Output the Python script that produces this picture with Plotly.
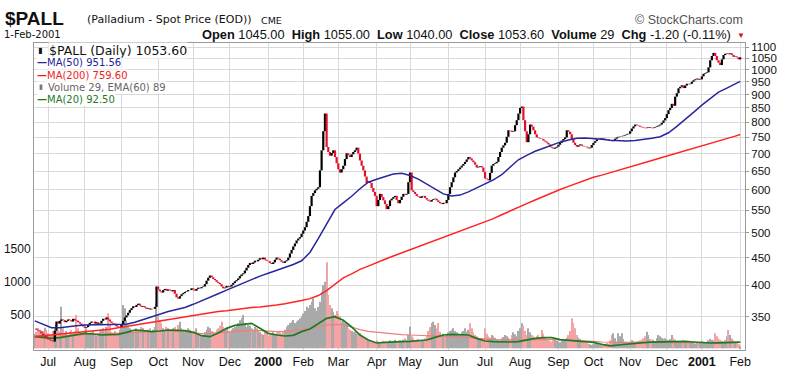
import math
import pandas as pd
import plotly.graph_objects as go

# ---------------- data ----------------
dates = pd.bdate_range("1999-06-21", "2001-02-01")

closes = [
    333, 331, 330, 329, 326, 322, 324, 320, 318, 317,
    316, 315, 330, 343, 340, 344, 346, 345, 342, 344,
    346, 345, 343, 347, 345, 344, 342, 340, 338, 336,
    334, 335, 338, 341, 343, 343, 340, 342, 339, 340,
    344, 347, 346, 349, 346, 343, 341, 340, 338, 336,
    335, 335, 338, 344, 349, 352, 356, 360, 363, 366,
    365, 368, 370, 367, 365, 366, 364, 362, 363, 361,
    362, 362, 365, 398, 393, 390, 388, 392, 394, 391,
    393, 392, 390, 392, 386, 380, 378, 382, 385, 387,
    389, 390, 392, 392, 395, 393, 391, 394, 396, 395,
    397, 398, 402, 408, 413, 417, 414, 411, 409, 406,
    404, 402, 398, 395, 396, 399, 397, 398, 401, 404,
    407, 409, 412, 416, 419, 421, 426, 431, 436, 440,
    438, 441, 444, 443, 446, 449, 447, 450, 446, 444,
    443, 440, 438, 441, 446, 450, 448, 445, 442, 440,
    443, 445, 450, 458, 465, 472, 478, 484, 488, 491,
    498, 505, 512, 524, 537, 560, 585, 592, 599, 603,
    607, 652, 710, 770, 830, 720, 705, 694, 702, 710,
    690, 672, 655, 646, 655, 665, 684, 701, 695, 690,
    698, 705, 710, 718, 700, 680, 665, 652, 635, 618,
    622, 618, 605, 595, 585, 560, 575, 590, 582, 574,
    565, 553, 560, 574, 578, 582, 585, 575, 567, 575,
    583, 590, 588, 590, 620, 646, 599, 595, 590, 585,
    583, 580, 584, 585, 580, 576, 573, 571, 575, 577,
    578, 574, 570, 567, 565, 568, 567, 575, 590, 607,
    620, 633, 646, 650, 655, 660, 665, 670, 676, 683,
    690, 686, 680, 675, 668, 660, 662, 664, 660, 648,
    630, 628, 625, 645, 665, 670, 672, 676, 690, 705,
    718, 725, 733, 752, 773, 772, 768, 770, 790, 807,
    830, 850, 855, 807, 770, 735, 760, 792, 785, 773,
    760, 750, 748, 746, 745, 740, 737, 733, 728, 721,
    718, 715, 718, 721, 727, 733, 740, 745, 750, 773,
    768, 760, 745, 733, 726, 721, 725, 728, 724, 722,
    721, 719, 716, 718, 726, 733, 738, 744, 745, 746,
    748, 746, 745, 744, 742, 740, 738, 742, 746, 750,
    752, 753, 754, 756, 758, 760, 762, 770, 779, 786,
    792, 790, 788, 785, 783, 781, 780, 782, 784, 781,
    780, 782, 784, 786, 789, 792, 798, 806, 814, 828,
    842, 850, 865, 858, 892, 905, 924, 930, 936, 925,
    935, 942, 940, 942, 950, 956, 960, 963, 958, 960,
    972, 983, 986, 989, 1010, 1041, 1060, 1074, 1060, 1041,
    1030, 1020, 1045, 1064, 1070, 1072, 1068, 1072, 1065, 1056,
    1058, 1054, 1045, 1053.6,
]

volume = [
    220, 250, 300, 280, 240, 260, 310, 280, 230, 200,
    180, 260, 300, 350, 280, 250, 624, 300, 220, 260,
    200, 240, 280, 220, 260, 500, 300, 240, 200, 230,
    260, 300, 220, 200, 240, 260, 210, 190, 230, 250,
    280, 300, 260, 320, 525, 350, 240, 200, 260, 220,
    200, 280, 350, 650, 600, 420, 320, 300, 280, 250,
    270, 300, 260, 280, 320, 300, 260, 240, 280, 300,
    260, 280, 320, 675, 500, 420, 380, 300, 280, 320,
    300, 260, 280, 300, 320, 280, 350, 400, 300, 260,
    240, 260, 300, 280, 250, 230, 260, 300, 220, 200,
    180, 200, 240, 280, 325, 300, 260, 240, 220, 280,
    300, 340, 400, 320, 280, 300, 260, 240, 280, 300,
    320, 340, 380, 420, 450, 500, 380, 320, 350, 340,
    300, 280, 320, 300, 260, 240, 220, 200, 250, 230,
    180, 200, 220, 240, 200, 230, 260, 240, 220, 250,
    280, 320, 350, 380, 400, 425, 380, 400, 420, 450,
    480, 520, 560, 625, 600, 650, 700, 750, 600, 560,
    620, 700, 850, 950, 1000, 1290, 800, 650, 600, 550,
    500, 560, 520, 480, 400, 420, 380, 360, 300, 280,
    260, 240, 250, 220, 200, 230, 180, 160, 150, 140,
    130, 120, 110, 100, 90, 120, 100, 80, 90, 110,
    100, 80, 90, 120, 100, 110, 130, 90, 100, 120,
    110, 130, 150, 120, 200, 325, 180, 150, 120, 130,
    140, 120, 110, 130, 150, 200, 260, 320, 380, 400,
    350, 300, 380, 250, 200, 220, 180, 200, 240, 260,
    280, 300, 260, 240, 220, 200, 240, 260, 300, 250,
    280, 375, 300, 240, 200, 180, 160, 140, 150, 130,
    300, 220, 180, 160, 200, 180, 160, 140, 130, 120,
    150, 170, 200, 180, 160, 140, 200, 240, 210, 180,
    260, 300, 375, 340, 260, 200, 300, 240, 200, 180,
    160, 180, 200, 150, 275, 220, 160, 140, 120, 110,
    100, 120, 130, 110, 100, 90, 110, 120, 140, 160,
    200, 260, 450, 380, 300, 200, 160, 140, 110, 100,
    90, 80, 70, 60, 50, 60, 70, 80, 60, 50,
    40, 50, 60, 80, 70, 120, 200, 225, 150, 100,
    225, 180, 225, 140, 100, 90, 80, 100, 120, 110,
    90, 100, 110, 120, 130, 150, 180, 250, 200, 140,
    120, 130, 110, 150, 200, 180, 160, 140, 150, 130,
    120, 140, 200, 160, 130, 110, 100, 90, 110, 120,
    100, 90, 80, 90, 100, 80, 70, 80, 90, 100,
    110, 90, 80, 100, 120, 140, 130, 120, 225, 180,
    150, 130, 110, 100, 120, 180, 275, 200, 150, 120,
    100, 80, 60, 29,
]

# moving averages every 5th trading day (plus the last day)
ma_positions = list(range(0, 424, 5)) + [423]

ma50 = [
    344, 339, 334, 334, 336, 337, 338, 338, 338, 338,
    338, 339, 342, 346, 350, 354, 358, 361, 364, 369,
    375, 381, 386, 392, 398, 404, 410, 416, 421, 426,
    431, 437, 444, 460, 488, 520, 552, 568, 584, 603,
    620, 628, 636, 642, 644, 638, 628, 615, 602, 590,
    585, 587, 595, 605, 614, 626, 640, 660, 682, 695,
    707, 716, 726, 735, 742, 747, 748, 747, 744, 741,
    739, 739, 740, 743, 747, 752, 765, 786, 808, 834,
    860, 886, 909, 925, 942, 951.56,
]

ma200 = [
    322, 323, 325, 326, 327, 328, 329, 330, 331, 332,
    334, 336, 338, 340, 342, 344, 346, 348, 350, 352,
    354, 356, 358, 359, 361, 362, 364, 365, 366, 368,
    370, 372, 375, 378, 383, 391, 402, 413, 420, 428,
    434, 441, 447, 453, 459, 466, 472, 478, 484, 491,
    497, 504, 511, 517, 524, 531, 540, 548, 557, 566,
    575, 584, 593, 601, 609, 617, 626, 633, 639, 646,
    653, 659, 666, 673, 680, 687, 694, 701, 708, 715,
    723, 730, 738, 746, 754, 759.6,
]

vol_ma20 = [
    175, 165, 150, 160, 180, 200, 225, 215, 200, 205,
    210, 240, 275, 265, 250, 260, 275, 270, 265, 240,
    190, 175, 230, 300, 345, 360, 375, 300, 225, 200,
    185, 195, 250, 290, 370, 450, 475, 420, 320, 200,
    125, 80, 90, 100, 100, 105, 110, 125, 165, 200,
    210, 205, 200, 150, 110, 100, 95, 95, 100, 130,
    150, 160, 160, 130, 120, 120, 105, 90, 60, 38,
    50, 65, 75, 85, 92, 98, 102, 108, 105, 95,
    85, 80, 82, 90, 95, 92.5,
]

vol_ema60 = [
    180, 180, 182, 188, 195, 200, 205, 208, 210, 215,
    220, 230, 240, 245, 250, 258, 262, 262, 250, 235,
    220, 225, 235, 245, 255, 265, 270, 265, 255, 250,
    255, 265, 280, 300, 325, 350, 360, 350, 320, 280,
    255, 240, 225, 215, 205, 200, 195, 190, 190, 185,
    180, 175, 165, 150, 135, 130, 128, 125, 128, 132,
    135, 135, 132, 128, 125, 122, 115, 105, 95, 90,
    90, 90, 90, 88, 88, 86, 85, 84, 83, 83,
    84, 85, 87, 88, 89, 89,
]

price_ticks = [350, 400, 450, 500, 550, 600, 650, 700, 750, 800,
               850, 900, 950, 1000, 1050, 1100]
volume_ticks = [500, 1000, 1500]

assert len(closes) == len(dates) == len(volume), (len(closes), len(dates), len(volume))
assert len(ma50) == len(ma200) == len(vol_ma20) == len(vol_ema60) == len(ma_positions)

# ---------------- derived ----------------
opens = [closes[0]] + closes[:-1]
highs = [max(o, c) for o, c in zip(opens, closes)]
lows = [min(o, c) for o, c in zip(opens, closes)]
vol_colors = ["#f3a3a3" if c < o else "#a9a9a9" for o, c in zip(opens, closes)]
ma_dates = [dates[i] for i in ma_positions]

month_vals, month_text = [], []
seen = set()
for d in dates:
    key = (d.year, d.month)
    if key not in seen and d >= pd.Timestamp("1999-07-01"):
        seen.add(key)
        month_vals.append(d)
        month_text.append(f"<b>{d.year}</b>" if d.month == 1 else d.strftime("%b"))

# ---------------- figure ----------------
W, H = 793, 378
L, R, T, B = 34, 48, 43, 28
PW, PH = W - L - R, H - T - B

def px(x):
    return (x - L) / PW

def py(y):
    return (H - B - y) / PH

fig = go.Figure()
fig.add_trace(go.Bar(x=dates, y=volume, marker_color=vol_colors,
                     marker_line_width=0, yaxis="y", hoverinfo="skip"))
fig.add_trace(go.Scatter(x=ma_dates, y=vol_ema60, mode="lines", yaxis="y",
                         line=dict(color="#f07c7c", width=1.2)))
fig.add_trace(go.Scatter(x=ma_dates, y=vol_ma20, mode="lines", yaxis="y",
                         line=dict(color="#1f7a1f", width=1.7)))
fig.add_trace(go.Scatter(x=ma_dates, y=ma200, mode="lines", yaxis="y2",
                         line=dict(color="#ff2424", width=1.5)))
fig.add_trace(go.Scatter(x=ma_dates, y=ma50, mode="lines", yaxis="y2",
                         line=dict(color="#27279c", width=1.5)))
fig.add_trace(go.Ohlc(x=dates, open=opens, high=highs, low=lows, close=closes,
                      yaxis="y2", tickwidth=0,
                      increasing=dict(line=dict(color="#000000", width=2.2)),
                      decreasing=dict(line=dict(color="#e0102a", width=2.2))))

grid = "#d9d9d9"
border = "#9a9a9a"
fig.update_layout(
    template="none",
    width=W, height=H,
    margin=dict(l=L, r=R, t=T, b=B, autoexpand=False),
    paper_bgcolor="white", plot_bgcolor="white",
    showlegend=False, bargap=0.35,
    font=dict(family="Arial, Liberation Sans, sans-serif", color="#111"),
    xaxis=dict(
        type="date", automargin=False,
        rangebreaks=[dict(bounds=["sat", "mon"])],
        range=["1999-06-18 13:00", "2001-02-05 21:00"],
        tickvals=month_vals, ticktext=month_text,
        showgrid=True, gridcolor=grid, gridwidth=1,
        showline=True, linecolor=border, linewidth=1, mirror=True,
        ticks="", tickfont=dict(size=12.5, color="#111"),
        rangeslider=dict(visible=False), zeroline=False,
    ),
    yaxis=dict(
        range=[-25, 4580], tickvals=volume_ticks, automargin=False,
        showgrid=False, zeroline=False,
        showline=True, linecolor=border, linewidth=1, mirror=True,
        side="left", ticks="", tickfont=dict(size=12, color="#111"),
    ),
    yaxis2=dict(
        type="log", overlaying="y", side="right", automargin=False,
        range=[math.log10(303.9), math.log10(1120.2)],
        tickvals=price_ticks, ticktext=[str(v) for v in price_ticks],
        showgrid=True, gridcolor=grid, gridwidth=1, showline=False,
        zeroline=False, ticks="outside", ticklen=3, tickcolor=border,
        tickfont=dict(size=11.5, color="#111"),
    ),
)

ann = []
def text(x, y, s, size, color="#111", family="Arial, Liberation Sans, sans-serif",
         anchor="left", bg=None):
    d = dict(x=px(x), y=py(y), xref="paper", yref="paper", text=s, showarrow=False,
             xanchor=anchor, yanchor="middle",
             font=dict(size=size, color=color, family=family))
    if bg:
        d.update(bgcolor=bg, borderpad=0)
    ann.append(d)

dj = "DejaVu Sans, Verdana, sans-serif"
text(3, 18.5, "<b>$PALL</b>", 19)
text(85, 20, "(Palladium - Spot Price (EOD))", 11, family=dj)
text(259, 20.5, "CME", 9.5, family=dj)
text(2, 34.5, "1-Feb-2001", 10, family=dj)
text(733, 34.5, "<b>Open</b> 1045.00  <b>High</b> 1055.00  <b>Low</b> 1040.00  "
     "<b>Close</b> 1053.60  <b>Volume</b> 29  <b>Chg</b> -1.20 (-0.11%)",
     12.8, anchor="right")
text(735, 35.5, "▼", 8, color="#d01020")
text(745, 20, "© StockCharts.com", 12.5, color="#555", anchor="right")

text(36, 50.5, "▮", 8, color="#111", family=dj)
text(48, 50.5, "$PALL (Daily) 1053.60", 12.5, color="#111", family=dj, bg="white")
text(36, 62.5, "<b>\u2014</b>MA(50) 951.56", 10, color="#23239a", family=dj, bg="white")
text(36, 75, "<b>\u2014</b>MA(200) 759.60", 10, color="#ee1c1c", family=dj, bg="white")
text(37, 87.5, "▮", 7, color="#777", family=dj)
text(47, 87.5, "Volume 29, EMA(60) 89", 10, color="#666", family=dj, bg="white")
text(36, 99.5, "<b>\u2014</b>MA(20) 92.50", 10, color="#1f7a1f", family=dj, bg="white")

fig.update_layout(annotations=ann)
fig.write_html("out.html",
               config={"displayModeBar": False},
               post_script="document.body.style.margin='0px';"
                           "document.body.style.overflow='hidden';")
